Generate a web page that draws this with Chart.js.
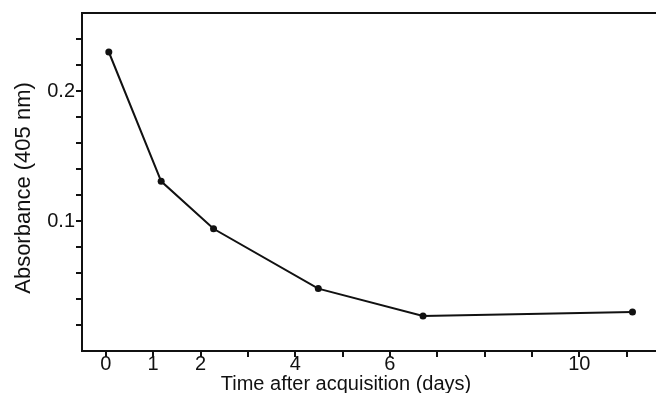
<!DOCTYPE html>
<html>
<head>
<meta charset="utf-8">
<script src="https://cdn.jsdelivr.net/npm/chart.js@4/dist/chart.umd.min.js"></script>
<style>
  html, body { margin: 0; padding: 0; background: #ffffff; }
  #wrap { width: 659px; height: 393px; }
</style>
</head>
<body>
<div id="wrap"><canvas id="c" width="659" height="393"></canvas></div>
<script>
// ---- data ----
const days = [0, 1, 2, 4, 6, 10];
const absorbance = [0.230, 0.1305, 0.094, 0.048, 0.027, 0.030];

// ---- axis ticks / labels ----
const xTicks = [0, 1, 2, 3, 4, 5, 6, 7, 8, 9, 10, 11];
const xLabeledTicks = [0, 1, 2, 4, 6, 10];
const yTicks = [2, 4, 6, 8, 10, 12, 14, 16, 18, 20, 22, 24].map(v => v / 100);
const yLabeledTicks = [0.1, 0.2];

const xTitle = 'Time after acquisition (days)';
const yTitle = 'Absorbance (405 nm)';

const INK = '#111111';
const FONT = '"Liberation Sans", Arial, sans-serif';

const titlesPlugin = {
  id: 'axisTitles',
  afterDraw(chart) {
    const ctx = chart.ctx;
    ctx.save();
    ctx.fillStyle = INK;
    ctx.font = '20px ' + FONT;
    ctx.textAlign = 'center';
    ctx.textBaseline = 'alphabetic';
    ctx.fillText(xTitle, 346, 390);
    ctx.translate(24, 188);
    ctx.rotate(-Math.PI / 2);
    ctx.font = '22px ' + FONT;
    ctx.textBaseline = 'middle';
    ctx.fillText(yTitle, 0, 0);
    ctx.restore();
  }
};

new Chart(document.getElementById('c'), {
  type: 'line',
  data: {
    datasets: [{
      data: days.map((d, i) => ({ x: d, y: absorbance[i] })),
      xAxisID: 'xData',
      borderColor: INK,
      borderWidth: 2,
      pointRadius: 3.5,
      pointBackgroundColor: INK,
      pointBorderColor: INK,
      pointBorderWidth: 0,
      tension: 0,
      fill: false
    }]
  },
  options: {
    responsive: false,
    animation: false,
    events: [],
    layout: { padding: { left: 0, right: 0, top: 12, bottom: 0 } },
    plugins: { legend: { display: false }, tooltip: { enabled: false }, title: { display: false } },
    scales: {
      x: {
        type: 'linear',
        position: 'bottom',
        min: -0.503,
        max: 11.6,
        afterBuildTicks: s => { s.ticks = xTicks.map(v => ({ value: v })); },
        afterFit: s => { s.height = 42; },
        ticks: {
          color: INK,
          font: { family: FONT, size: 20 },
          padding: -5,
          autoSkip: false,
          maxRotation: 0,
          callback: v => (xLabeledTicks.includes(v) ? String(v) : '')
        },
        grid: { drawOnChartArea: false, drawTicks: true, tickLength: 6, color: INK, lineWidth: 2 },
        border: { display: true, color: INK, width: 2 }
      },
      xData: {
        type: 'linear',
        position: 'top',
        min: -0.512,
        max: 10.43,
        afterFit: s => { s.height = 0; },
        ticks: { display: false },
        grid: { display: true, drawOnChartArea: false, drawTicks: false, color: INK, lineWidth: 2 },
        border: { display: true, color: INK, width: 2 }
      },
      y: {
        type: 'linear',
        position: 'left',
        min: 0,
        max: 0.26,
        afterBuildTicks: s => { s.ticks = yTicks.map(v => ({ value: v })); },
        afterFit: s => { s.width = 82; },
        ticks: {
          color: INK,
          font: { family: FONT, size: 20 },
          padding: 1,
          autoSkip: false,
          callback: v => (yLabeledTicks.includes(v) ? String(v) : '')
        },
        grid: { drawOnChartArea: false, drawTicks: true, tickLength: 6, color: INK, lineWidth: 2 },
        border: { display: true, color: INK, width: 2 }
      }
    }
  },
  plugins: [titlesPlugin]
});
</script>
</body>
</html>
